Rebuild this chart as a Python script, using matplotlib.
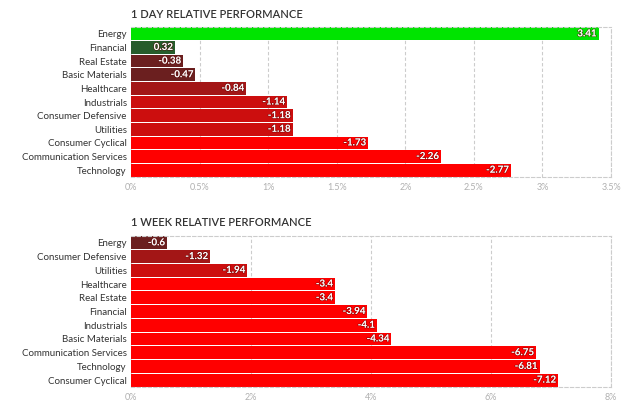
import matplotlib.pyplot as plt
import matplotlib.patheffects as pe

day_sectors = ['Energy', 'Financial', 'Real Estate', 'Basic Materials', 'Healthcare',
               'Industrials', 'Consumer Defensive', 'Utilities', 'Consumer Cyclical',
               'Communication Services', 'Technology']
day_values = [3.41, 0.32, -0.38, -0.47, -0.84, -1.14, -1.18, -1.18, -1.73, -2.26, -2.77]
day_ticks = [0, 0.5, 1, 1.5, 2, 2.5, 3, 3.5]

week_sectors = ['Energy', 'Consumer Defensive', 'Utilities', 'Healthcare', 'Real Estate',
                'Financial', 'Industrials', 'Basic Materials', 'Communication Services',
                'Technology', 'Consumer Cyclical']
week_values = [-0.6, -1.32, -1.94, -3.4, -3.4, -3.94, -4.1, -4.34, -6.75, -6.81, -7.12]
week_ticks = [0, 2, 4, 6, 8]

plt.rcParams['font.family'] = ['Lato', 'DejaVu Sans']


def color_for(v, step):
    if v >= 2 * step:
        return '#00e400'
    if v >= 0:
        return '#265c2b'
    if v > -step:
        return '#6b1f1f'
    if v > -2 * step:
        return '#a31616'
    if v > -3 * step:
        return '#cc0e0e'
    return '#ff0000'


def panel(ax, title, names, vals, ticks, step):
    n = len(names)
    ys = list(range(n))
    absv = [abs(v) for v in vals]
    cols = [color_for(v, step) for v in vals]
    ax.barh(ys, absv, height=0.93, color=cols, zorder=2)
    ax.set_ylim(n - 0.5, -0.5)
    ax.set_xlim(ticks[0], ticks[-1])
    ax.set_yticks(ys)
    ax.set_yticklabels(names, fontsize=7, color='#333333')
    ax.set_xticks(ticks)
    ax.set_xticklabels(['%g%%' % t for t in ticks], fontsize=6.5, color='#b0b0b0')
    ax.tick_params(length=0, pad=3)
    ax.tick_params(axis='x', pad=4)
    ax.grid(axis='x', linestyle=(0, (3, 2)), color='#cccccc', linewidth=0.8, zorder=0)
    for s in ['top', 'right', 'bottom']:
        ax.spines[s].set_linestyle((0, (3, 2)))
        ax.spines[s].set_color('#cccccc')
        ax.spines[s].set_linewidth(0.8)
    ax.spines['left'].set_visible(False)
    off = (ticks[-1] - ticks[0]) * 0.004
    for y, a, v in zip(ys, absv, vals):
        ax.text(a - off, y, '%g' % v, ha='right', va='center', fontsize=7,
                color='white', fontweight='bold', zorder=3,
                path_effects=[pe.withStroke(linewidth=1, foreground='#55000088')])
    # section heading, left aligned with the plot area
    ax.text(0, 1.05, title, transform=ax.transAxes, fontsize=8, color='#333333',
            fontweight='semibold', ha='left', va='bottom')


fig = plt.figure(figsize=(6.33, 4.05), dpi=100)
ax1 = fig.add_axes([131 / 633, 1 - 177 / 405, 480 / 633, 150 / 405])
ax2 = fig.add_axes([131 / 633, 1 - 387 / 405, 480 / 633, 151 / 405])

panel(ax1, '1 DAY RELATIVE PERFORMANCE', day_sectors, day_values, day_ticks, 0.5)
panel(ax2, '1 WEEK RELATIVE PERFORMANCE', week_sectors, week_values, week_ticks, 0.7)

fig.savefig('out.png', dpi=100)
